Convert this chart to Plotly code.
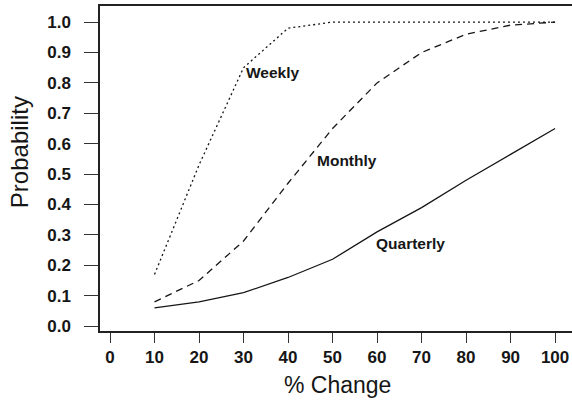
import plotly.graph_objects as go

# Percentage change (x) and probability of each horizon
pct_change = [10, 20, 30, 40, 50, 60, 70, 80, 90, 100]
weekly = [0.17, 0.53, 0.85, 0.98, 1.0, 1.0, 1.0, 1.0, 1.0, 1.0]
monthly = [0.08, 0.15, 0.28, 0.47, 0.65, 0.80, 0.90, 0.96, 0.99, 1.0]
quarterly = [0.06, 0.08, 0.11, 0.16, 0.22, 0.31, 0.39, 0.48, 0.565, 0.65]

x_ticks = [0, 10, 20, 30, 40, 50, 60, 70, 80, 90, 100]
y_ticks = [0.0, 0.1, 0.2, 0.3, 0.4, 0.5, 0.6, 0.7, 0.8, 0.9, 1.0]

# Curve labels: (text, x, y)
curve_labels = [("Weekly", 30.2, 0.835), ("Monthly", 46.0, 0.546), ("Quarterly", 59.4, 0.273)]

FONT = "Liberation Sans, Arial, sans-serif"
INK = "#161616"

fig = go.Figure()
fig.add_trace(go.Scatter(x=pct_change, y=weekly, mode="lines",
                         line=dict(color=INK, width=1.3, dash="2px,3px")))
fig.add_trace(go.Scatter(x=pct_change, y=monthly, mode="lines",
                         line=dict(color=INK, width=1.3, dash="7px,5px")))
fig.add_trace(go.Scatter(x=pct_change, y=quarterly, mode="lines",
                         line=dict(color=INK, width=1.3)))

for text, x, y in curve_labels:
    fig.add_annotation(x=x, y=y, text=text, showarrow=False, xanchor="left",
                       yanchor="middle",
                       font=dict(family=FONT, size=15.5, color=INK, weight="bold"))

fig.add_annotation(x=0.504, y=-0.166, xref="paper", yref="paper", text="% Change",
                   showarrow=False, xanchor="center", yanchor="middle",
                   font=dict(family=FONT, size=23, color=INK))
fig.add_annotation(x=-0.169, y=0.551, xref="paper", yref="paper", text="Probability",
                   showarrow=False, textangle=-90, xanchor="center", yanchor="middle",
                   font=dict(family=FONT, size=24, color=INK))

tick_font = dict(family=FONT, size=17, color=INK, weight="bold")

fig.update_layout(
    width=572, height=405,
    margin=dict(l=100, r=0, t=6, b=74),
    plot_bgcolor="white", paper_bgcolor="white",
    showlegend=False,
    xaxis=dict(range=[-2.25, 103.8], tickvals=x_ticks, ticks="outside", ticklen=10,
               tickwidth=1.3, tickcolor="#333", showline=True, linecolor="#222",
               linewidth=1.5, mirror=True, showgrid=False, zeroline=False,
               tickfont=tick_font),
    yaxis=dict(range=[-0.016, 1.053], tickvals=y_ticks, tickformat=".1f",
               ticks="outside", ticklen=14, tickwidth=1.3, tickcolor="#333",
               showline=True, linecolor="#222", linewidth=1.5, showgrid=False,
               zeroline=False, ticklabelstandoff=10, tickfont=tick_font),
)

fig.write_html("out.html")
